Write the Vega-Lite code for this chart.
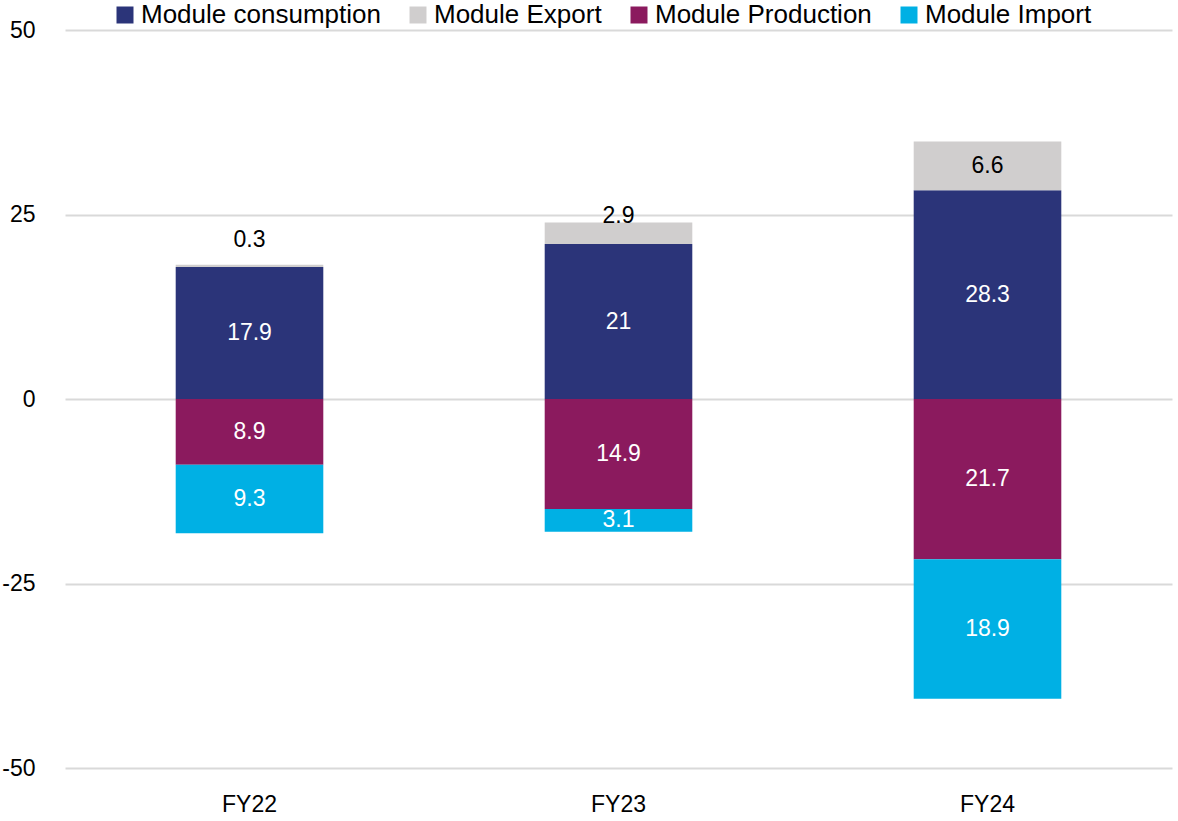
{
  "$schema": "https://vega.github.io/schema/vega-lite/v6.json",
  "width": 1107,
  "height": 738,
  "autosize": {"type": "none"},
  "padding": {"left": 65, "top": 30, "right": 6, "bottom": 53},
  "background": "white",
  "config": {"view": {"stroke": null}, "font": "Liberation Sans"},
  "data": {
    "values": [
      {"fy": "FY22", "series": "Module consumption", "value": 17.9, "ord": 1, "label": "17.9"},
      {"fy": "FY22", "series": "Module Export", "value": 0.3, "ord": 2, "label": "0.3"},
      {"fy": "FY22", "series": "Module Production", "value": -8.9, "ord": 1, "label": "8.9"},
      {"fy": "FY22", "series": "Module Import", "value": -9.3, "ord": 2, "label": "9.3"},
      {"fy": "FY23", "series": "Module consumption", "value": 21, "ord": 1, "label": "21"},
      {"fy": "FY23", "series": "Module Export", "value": 2.9, "ord": 2, "label": "2.9"},
      {"fy": "FY23", "series": "Module Production", "value": -14.9, "ord": 1, "label": "14.9"},
      {"fy": "FY23", "series": "Module Import", "value": -3.1, "ord": 2, "label": "3.1"},
      {"fy": "FY24", "series": "Module consumption", "value": 28.3, "ord": 1, "label": "28.3"},
      {"fy": "FY24", "series": "Module Export", "value": 6.6, "ord": 2, "label": "6.6"},
      {"fy": "FY24", "series": "Module Production", "value": -21.7, "ord": 1, "label": "21.7"},
      {"fy": "FY24", "series": "Module Import", "value": -18.9, "ord": 2, "label": "18.9"}
    ]
  },
  "transform": [
    {"stack": "value", "groupby": ["fy"], "sort": [{"field": "ord", "order": "ascending"}], "as": ["y0", "y1"]},
    {"calculate": "(datum.y0 + datum.y1) / 2", "as": "ymid"}
  ],
  "encoding": {
    "x": {
      "field": "fy", "type": "nominal",
      "scale": {"paddingInner": 0.6, "paddingOuter": 0.3},
      "axis": {"title": null, "domain": false, "ticks": false, "labelAngle": 0, "labelFontSize": 23, "labelPadding": 25, "labelColor": "black"}
    }
  },
  "layer": [
    {
      "mark": {"type": "bar"},
      "encoding": {
        "y": {
          "field": "y0", "type": "quantitative",
          "scale": {"domain": [-50, 50], "nice": false},
          "axis": {"title": null, "values": [-50, -25, 0, 25, 50], "labelExpr": "'' + datum.value", "domain": false, "ticks": false, "grid": true, "gridColor": "#D9D9D9", "gridWidth": 2, "labelFontSize": 23, "labelPadding": 30, "labelColor": "black"}
        },
        "y2": {"field": "y1"},
        "color": {
          "field": "series", "type": "nominal",
          "scale": {
            "domain": ["Module consumption", "Module Export", "Module Production", "Module Import"],
            "range": ["#2B3479", "#D0CECE", "#8B1A5E", "#00B0E4"]
          },
          "legend": {
            "title": null, "orient": "none", "legendX": 47, "legendY": -28, "direction": "horizontal",
            "symbolType": "square", "symbolSize": 289, "symbolStrokeWidth": 0, "symbolOpacity": 1,
            "labelFontSize": 26, "labelOffset": 3, "columnPadding": 24, "labelColor": "black", "labelLimit": 400
          }
        }
      }
    },
    {
      "transform": [{"filter": "datum.series != 'Module Export'"}],
      "mark": {"type": "text", "color": "white", "fontSize": 23, "baseline": "middle"},
      "encoding": {"y": {"field": "ymid", "type": "quantitative"}, "text": {"field": "label"}}
    },
    {
      "transform": [{"filter": "datum.series == 'Module Export' && datum.fy == 'FY24'"}],
      "mark": {"type": "text", "color": "black", "fontSize": 23, "baseline": "middle"},
      "encoding": {"y": {"field": "ymid", "type": "quantitative"}, "text": {"field": "label"}}
    },
    {
      "transform": [{"filter": "datum.series == 'Module Export' && datum.fy == 'FY22'"}],
      "mark": {"type": "text", "color": "black", "fontSize": 23, "baseline": "middle", "dy": -25},
      "encoding": {"y": {"field": "y1", "type": "quantitative"}, "text": {"field": "label"}}
    },
    {
      "transform": [{"filter": "datum.series == 'Module Export' && datum.fy == 'FY23'"}],
      "mark": {"type": "text", "color": "black", "fontSize": 23, "baseline": "middle", "dy": -7},
      "encoding": {"y": {"field": "y1", "type": "quantitative"}, "text": {"field": "label"}}
    }
  ]
}
